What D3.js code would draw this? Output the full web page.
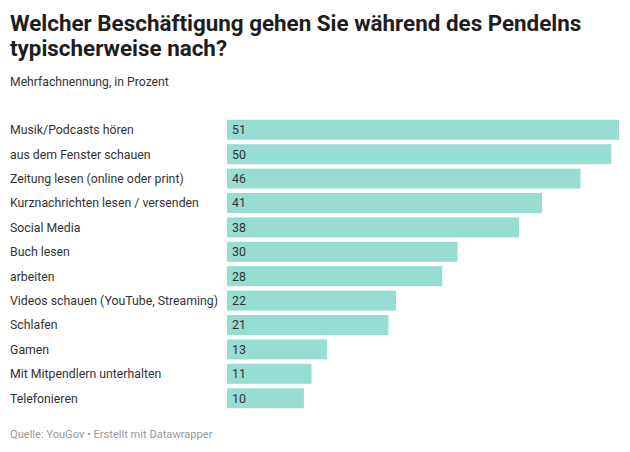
<!DOCTYPE html>
<html><head><meta charset="utf-8">
<script src="https://cdn.jsdelivr.net/npm/d3@7"></script>
<style>
body{margin:0;background:#fff;font-family:Roboto,"Noto Sans",sans-serif;}
</style></head>
<body>
<svg id="c" width="630" height="452"></svg>
<script>
const categories = ["Musik/Podcasts hören","aus dem Fenster schauen","Zeitung lesen (online oder print)","Kurznachrichten lesen / versenden","Social Media","Buch lesen","arbeiten","Videos schauen (YouTube, Streaming)","Schlafen","Gamen","Mit Mitpendlern unterhalten","Telefonieren"];
const values = [51,50,46,41,38,30,28,22,21,13,11,10];
const title = ["Welcher Beschäftigung gehen Sie während des Pendelns","typischerweise nach?"];
const subtitle = "Mehrfachnennung, in Prozent";
const footer = "Quelle: YouGov • Erstellt mit Datawrapper";

const svg = d3.select("#c");
svg.selectAll("text.title").data(title).join("text").attr("class","title")
  .attr("x",10).attr("y",(d,i)=>31+i*25).text(d=>d)
  .attr("font-size",22.4).attr("font-weight",700).attr("fill","#1d1d1d");
svg.append("text").attr("x",10).attr("y",85.5).text(subtitle)
  .attr("font-size",12.2).attr("fill","#333");

const x = d3.scaleLinear().domain([0,51]).range([227,619]);
const y = d3.scaleBand().domain(categories).range([117.6,410.4]).paddingInner(0.18).paddingOuter(0.09);

svg.selectAll("rect.bar").data(values).join("rect").attr("class","bar")
  .attr("x",x(0)).attr("y",(d,i)=>y(categories[i]))
  .attr("width",d=>x(d)-x(0)).attr("height",y.bandwidth())
  .attr("fill","#98ddd1");
svg.selectAll("text.val").data(values).join("text").attr("class","val")
  .attr("x",x(0)+5).attr("y",(d,i)=>y(categories[i])+y.bandwidth()/2)
  .attr("dy","0.35em").text(d=>d).attr("font-size",12.4).attr("fill","#333");
svg.selectAll("text.cat").data(categories).join("text").attr("class","cat")
  .attr("x",10).attr("y",d=>y(d)+y.bandwidth()/2).attr("dy","0.35em")
  .text(d=>d).attr("font-size",12.3).attr("fill","#333");
svg.append("text").attr("x",10).attr("y",438).text(footer)
  .attr("font-size",11.1).attr("fill","#999");
</script>
</body></html>
